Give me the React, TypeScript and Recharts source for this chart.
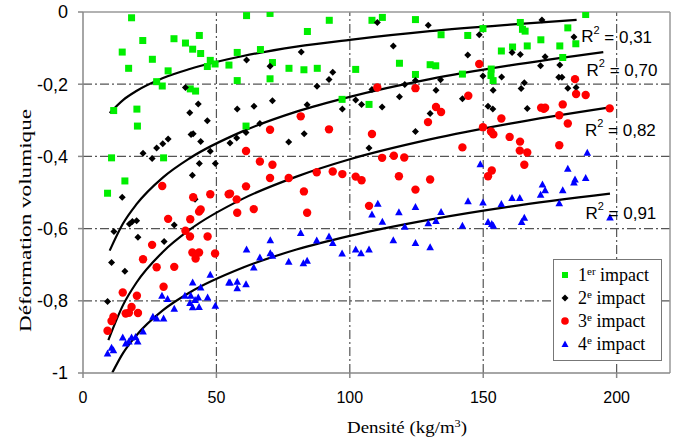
import React from 'react';
import {
  ComposedChart,
  Scatter,
  Line,
  XAxis,
  YAxis,
  ReferenceLine,
  ReferenceDot,
  Legend,
  Customized,
} from 'recharts';

// measured points [densité, déformation]
const impact1: [number, number][] = [
  [18.2, -0.016], [22.4, -0.079], [14.7, -0.111], [17.1, -0.156], [26.0, -0.131], [34.1, -0.074],
  [38.4, -0.086], [41.1, -0.103], [43.6, -0.065], [44.1, -0.115], [31.9, -0.163], [47.7, -0.134],
  [46.6, -0.151], [49.5, -0.144], [54.7, -0.147], [27.6, -0.193], [29.7, -0.205], [40.2, -0.213],
  [42.2, -0.219], [11.5, -0.273], [20.2, -0.269], [20.4, -0.316], [10.7, -0.404], [30.2, -0.404],
  [15.7, -0.468], [9.2, -0.502], [61.3, -0.010], [70.1, -0.004], [92.3, -0.023], [84.1, -0.054],
  [57.8, -0.112], [66.5, -0.104], [71.0, -0.140], [77.2, -0.156], [82.8, -0.160], [87.8, -0.156],
  [102.2, -0.159], [57.8, -0.190], [70.1, -0.185], [97.1, -0.242], [107.2, -0.256], [61.1, -0.316],
  [108.3, -0.023], [112.2, -0.015], [124.6, -0.021], [134.2, -0.063], [144.2, -0.065], [149.9, -0.046],
  [156.8, -0.108], [118.6, -0.142], [130.1, -0.146], [132.2, -0.149], [124.6, -0.173], [142.2, -0.172],
  [153.0, -0.158], [152.9, -0.176], [153.7, -0.190], [188.4, -0.007], [163.9, -0.029], [164.7, -0.048],
  [165.7, -0.053], [181.7, -0.044], [171.6, -0.077], [184.7, -0.088], [166.5, -0.094], [161.0, -0.097],
  [178.7, -0.094], [179.8, -0.126],
];

const impact2: [number, number][] = [
  [38.4, -0.209], [43.2, -0.255], [40.0, -0.279], [46.6, -0.301], [40.5, -0.339], [41.3, -0.337],
  [44.1, -0.359], [31.9, -0.352], [29.9, -0.365], [27.6, -0.377], [22.5, -0.391], [25.9, -0.406],
  [47.7, -0.386], [43.6, -0.420], [49.6, -0.420], [41.0, -0.452], [14.7, -0.513], [42.0, -0.519],
  [17.4, -0.587], [18.5, -0.580], [20.1, -0.578], [11.6, -0.608], [20.6, -0.624], [34.2, -0.590],
  [30.4, -0.636], [10.7, -0.694], [15.7, -0.718], [9.2, -0.802], [61.3, -0.133], [70.1, -0.150],
  [81.8, -0.111], [93.6, -0.167], [92.2, -0.187], [87.7, -0.206], [57.8, -0.269], [64.1, -0.261],
  [71.0, -0.246], [84.0, -0.257], [102.2, -0.244], [104.4, -0.256], [97.2, -0.269], [66.3, -0.309],
  [55.1, -0.363], [57.6, -0.349], [61.1, -0.334], [77.1, -0.360], [82.9, -0.337], [107.2, -0.377],
  [110.3, -0.029], [129.4, -0.037], [148.5, -0.063], [116.3, -0.094], [144.2, -0.119], [124.6, -0.190],
  [120.6, -0.201], [134.0, -0.188], [149.9, -0.177], [156.9, -0.180], [108.3, -0.215], [132.3, -0.217],
  [153.7, -0.217], [118.6, -0.235], [142.2, -0.240], [112.1, -0.263], [151.8, -0.261], [153.6, -0.269],
  [130.1, -0.281], [124.6, -0.331], [172.0, -0.022], [184.0, -0.069], [160.8, -0.112], [163.9, -0.118],
  [173.2, -0.124], [171.5, -0.149], [178.7, -0.147], [178.3, -0.181], [179.5, -0.181], [165.4, -0.196],
  [164.2, -0.212], [181.7, -0.211], [184.8, -0.209], [166.5, -0.267],
];

const impact3: [number, number][] = [
  [29.7, -0.482], [41.3, -0.513], [47.7, -0.505], [54.6, -0.505], [43.5, -0.553], [44.1, -0.547],
  [31.9, -0.573], [40.2, -0.574], [38.4, -0.606], [40.1, -0.622], [46.7, -0.622], [25.9, -0.645],
  [41.0, -0.666], [43.5, -0.666], [42.2, -0.683], [49.5, -0.669], [22.5, -0.685], [27.6, -0.707],
  [34.2, -0.706], [30.2, -0.761], [14.9, -0.777], [20.2, -0.786], [18.2, -0.817], [16.0, -0.835],
  [17.2, -0.833], [20.6, -0.834], [11.4, -0.844], [10.7, -0.856], [9.2, -0.883], [81.6, -0.289],
  [92.2, -0.325], [70.1, -0.326], [61.1, -0.385], [66.3, -0.414], [71.0, -0.423], [70.1, -0.460],
  [77.1, -0.460], [87.6, -0.444], [93.6, -0.442], [97.2, -0.449], [102.2, -0.456], [104.4, -0.466],
  [61.1, -0.483], [55.1, -0.503], [57.6, -0.519], [82.8, -0.497], [57.8, -0.556], [64.0, -0.546],
  [84.0, -0.556], [107.2, -0.537], [148.5, -0.144], [124.6, -0.211], [110.3, -0.209], [144.4, -0.232],
  [132.3, -0.263], [134.2, -0.277], [129.3, -0.305], [156.8, -0.295], [149.9, -0.319], [152.9, -0.331],
  [153.8, -0.339], [159.9, -0.346], [108.3, -0.338], [142.2, -0.375], [112.1, -0.404], [116.5, -0.398],
  [120.4, -0.403], [118.4, -0.455], [130.1, -0.464], [124.6, -0.492], [153.2, -0.439], [151.8, -0.455],
  [184.4, -0.186], [184.8, -0.227], [188.4, -0.230], [179.8, -0.256], [171.7, -0.265], [172.7, -0.268],
  [173.2, -0.265], [197.4, -0.267], [178.5, -0.286], [181.7, -0.309], [163.8, -0.359], [163.7, -0.384],
  [166.5, -0.389], [178.5, -0.369], [165.4, -0.423],
];

const impact4: [number, number][] = [
  [47.7, -0.728], [54.7, -0.749], [41.1, -0.749], [44.1, -0.763], [29.6, -0.786], [31.7, -0.795],
  [38.2, -0.786], [40.4, -0.786], [43.2, -0.791], [42.0, -0.798], [46.7, -0.791], [40.1, -0.806],
  [41.1, -0.818], [43.5, -0.817], [49.6, -0.814], [34.2, -0.822], [26.2, -0.844], [27.6, -0.849],
  [30.2, -0.849], [22.5, -0.885], [14.9, -0.902], [18.2, -0.902], [19.7, -0.900], [16.0, -0.918],
  [17.2, -0.913], [20.5, -0.913], [10.7, -0.930], [9.2, -0.946], [11.4, -0.937], [81.6, -0.612],
  [70.2, -0.632], [87.6, -0.633], [92.2, -0.622], [93.6, -0.640], [61.3, -0.658], [70.2, -0.668],
  [71.0, -0.675], [66.3, -0.680], [77.1, -0.692], [82.6, -0.696], [84.0, -0.689], [97.1, -0.669],
  [102.2, -0.658], [104.2, -0.668], [107.2, -0.658], [64.0, -0.708], [55.1, -0.749], [57.8, -0.747],
  [61.1, -0.754], [57.8, -0.765], [148.9, -0.422], [110.5, -0.531], [144.3, -0.524], [149.9, -0.528],
  [156.8, -0.532], [124.6, -0.540], [108.3, -0.561], [118.4, -0.555], [134.2, -0.554], [112.2, -0.581],
  [129.4, -0.585], [132.3, -0.579], [120.6, -0.595], [142.2, -0.592], [151.8, -0.582], [153.2, -0.587],
  [153.8, -0.592], [116.3, -0.632], [124.6, -0.640], [130.1, -0.652], [189.0, -0.390], [181.7, -0.434],
  [172.2, -0.478], [173.2, -0.494], [171.5, -0.506], [184.4, -0.464], [184.0, -0.472], [188.4, -0.460],
  [179.8, -0.494], [160.8, -0.515], [163.7, -0.515], [178.5, -0.530], [165.4, -0.570], [164.4, -0.582],
  [197.5, -0.569],
];

// trend curves
const trend1: [number, number][] = [
  [10, -0.28], [15, -0.244], [20, -0.219], [30, -0.183], [40, -0.158], [60, -0.122],
  [80, -0.096], [100, -0.077], [130, -0.053], [160, -0.035], [185, -0.022],
];
const trend2: [number, number][] = [
  [10, -0.661], [15, -0.586], [20, -0.533], [30, -0.458], [40, -0.405], [60, -0.33],
  [80, -0.276], [100, -0.235], [130, -0.186], [160, -0.148], [195, -0.111],
];
const trend3: [number, number][] = [
  [9.5, -0.909], [15, -0.812], [20, -0.75], [30, -0.664], [40, -0.603], [60, -0.517],
  [80, -0.456], [100, -0.408], [130, -0.353], [160, -0.309], [197.5, -0.264],
];
const trend4: [number, number][] = [
  [11, -0.999], [15, -0.945], [20, -0.896], [30, -0.826], [40, -0.777], [60, -0.708],
  [80, -0.658], [100, -0.62], [130, -0.575], [160, -0.539], [197.5, -0.503],
];

const r2Values = ['0,31', '0,70', '0,82', '0,91'];
const r2Anchors: [number, number][] = [[200, -0.069], [202, -0.161], [201.4, -0.328], [201.6, -0.558]];

const xTicks = [0, 50, 100, 150, 200];
const yTicks = [-1, -0.8, -0.6, -0.4, -0.2, 0];
const gridX = [50, 100, 150, 200];
const gridY = [-0.2, -0.4, -0.6, -0.8];

const toPts = (arr: [number, number][]) => arr.map(([x, y]) => ({ x, y }));

const GREEN = '#00ee00';
const RED = '#ff0000';
const BLUE = '#0000ff';
const SANS = "'Liberation Sans', Arial, sans-serif";
const SERIF = "'Liberation Serif', 'DejaVu Serif', serif";

const SquareDot = (p: any) => <rect x={p.cx - 3.5} y={p.cy - 3.5} width={7} height={7} fill={GREEN} />;
const DiamondDot = (p: any) => (
  <path d={`M${p.cx},${p.cy - 3.5}L${p.cx + 3.5},${p.cy}L${p.cx},${p.cy + 3.5}L${p.cx - 3.5},${p.cy}Z`} fill="#000" />
);
const CircleDot = (p: any) => <circle cx={p.cx} cy={p.cy} r={4.2} fill={RED} />;
const TriangleDot = (p: any) => (
  <path d={`M${p.cx},${p.cy - 4}L${p.cx + 3.8},${p.cy + 3}L${p.cx - 3.8},${p.cy + 3}Z`} fill={BLUE} />
);

const legendItems = [
  { num: '1', sup: 'er', kind: 'square' },
  { num: '2', sup: 'e', kind: 'diamond' },
  { num: '3', sup: 'e', kind: 'circle' },
  { num: '4', sup: 'e', kind: 'triangle' },
];

function LegendMarker({ kind }: { kind: string }) {
  return (
    <svg width={10} height={10} style={{ marginRight: 8 }}>
      {kind === 'square' && <rect x={2} y={2} width={6} height={6} fill={GREEN} />}
      {kind === 'diamond' && <path d="M5,1.5L8.5,5L5,8.5L1.5,5Z" fill="#000" />}
      {kind === 'circle' && <circle cx={5} cy={5} r={3.8} fill={RED} />}
      {kind === 'triangle' && <path d="M5,1.5L8.5,8L1.5,8Z" fill={BLUE} />}
    </svg>
  );
}

function ImpactLegend() {
  return (
    <div
      style={{
        width: 107,
        height: 97,
        border: '1px solid #777',
        background: '#fff',
        boxSizing: 'content-box',
        paddingTop: 3,
        fontFamily: SERIF,
        fontSize: 18,
        color: '#000',
      }}
    >
      {legendItems.map((it) => (
        <div key={it.num} style={{ height: 23, display: 'flex', alignItems: 'center', paddingLeft: 6 }}>
          <LegendMarker kind={it.kind} />
          <span style={{ whiteSpace: 'nowrap', lineHeight: '18px', fontFamily: SERIF }}>
            {it.num}
            <sup style={{ fontSize: 11, verticalAlign: 'top', lineHeight: '11px' }}>{it.sup}</sup> impact
          </span>
        </div>
      ))}
    </div>
  );
}

function AxisTitles() {
  return (
    <g>
      <text
        x={347}
        y={433}
        textLength={120}
        lengthAdjust="spacingAndGlyphs"
        style={{ fontFamily: SERIF, fontSize: 17 }}
        fill="#000"
      >
        Densité (kg/m<tspan dy={-6} fontSize={11}>3</tspan><tspan dy={6}>)</tspan>
      </text>
      <text
        x={110}
        y={222}
        textLength={223}
        lengthAdjust="spacingAndGlyphs"
        dominantBaseline="central"
        transform="rotate(-90 25 222) translate(-195 0)"
        style={{ fontFamily: SERIF, fontSize: 17 }}
        fill="#000"
      >
        Déformation volumique
      </text>
    </g>
  );
}

const fmtY = (v: number) => (v === 0 ? '0' : String(v).replace('.', ','));

export default function App() {
  const grid = '9 3 2 3';
  return (
    <div style={{ position: 'absolute', left: 0, top: 0, width: 675, height: 441, background: '#fff' }}>
      <ComposedChart width={675} height={441} margin={{ top: 12, right: 5, left: 0, bottom: 0 }}>
        <XAxis
          dataKey="x"
          type="number"
          domain={[0, 220]}
          ticks={xTicks}
          allowDataOverflow
          height={68}
          stroke="#888"
          strokeWidth={1.5}
          tickSize={5}
          tickMargin={14}
          tick={{ fill: '#000', fontSize: 16, fontFamily: SANS }}
        />
        <YAxis
          dataKey="y"
          type="number"
          domain={[-1, 0]}
          ticks={yTicks}
          allowDataOverflow
          width={83}
          stroke="#888"
          strokeWidth={1.5}
          tickSize={5}
          tickMargin={10}
          tickFormatter={fmtY}
          tick={{ fill: '#000', fontSize: 18, fontFamily: SANS }}
        />
        {gridX.map((v) => (
          <ReferenceLine key={'gx' + v} x={v} stroke="#555" strokeWidth={1.2} strokeDasharray={grid} />
        ))}
        {gridY.map((v) => (
          <ReferenceLine key={'gy' + v} y={v} stroke="#555" strokeWidth={1.2} strokeDasharray={grid} />
        ))}
        <ReferenceLine y={0} stroke="#999" strokeWidth={1.5} />
        <ReferenceLine x={220} stroke="#999" strokeWidth={1.5} />

        <Scatter name="1er impact" data={toPts(impact1)} dataKey="y" shape={SquareDot} isAnimationActive={false} />
        <Scatter name="2e impact" data={toPts(impact2)} dataKey="y" shape={DiamondDot} isAnimationActive={false} />
        <Scatter name="3e impact" data={toPts(impact3)} dataKey="y" shape={CircleDot} isAnimationActive={false} />
        <Scatter name="4e impact" data={toPts(impact4)} dataKey="y" shape={TriangleDot} isAnimationActive={false} />

        {[trend1, trend2, trend3, trend4].map((t, i) => (
          <Line
            key={'t' + i}
            data={toPts(t)}
            dataKey="y"
            type="monotone"
            stroke="#000"
            strokeWidth={2.2}
            dot={false}
            activeDot={false}
            legendType="none"
            isAnimationActive={false}
          />
        ))}

        {r2Values.map((v, i) => (
          <ReferenceDot
            key={'r' + i}
            x={r2Anchors[i][0]}
            y={r2Anchors[i][1]}
            r={0}
            shape={(p: any) => (
              <text
                x={p.cx}
                y={p.cy}
                textAnchor="middle"
                dominantBaseline="central"
                style={{ fontFamily: SANS, fontSize: 17 }}
                fill="#000"
              >
                R<tspan dy={-7} fontSize={11}>2</tspan>
                <tspan dy={7}> = {v}</tspan>
              </text>
            )}
          />
        ))}

        <Legend
          layout="vertical"
          align="center"
          verticalAlign="middle"
          wrapperStyle={{ left: 553, top: 259, width: 'auto' }}
          content={() => <ImpactLegend />}
        />
        <Customized component={AxisTitles} />
      </ComposedChart>
    </div>
  );
}
